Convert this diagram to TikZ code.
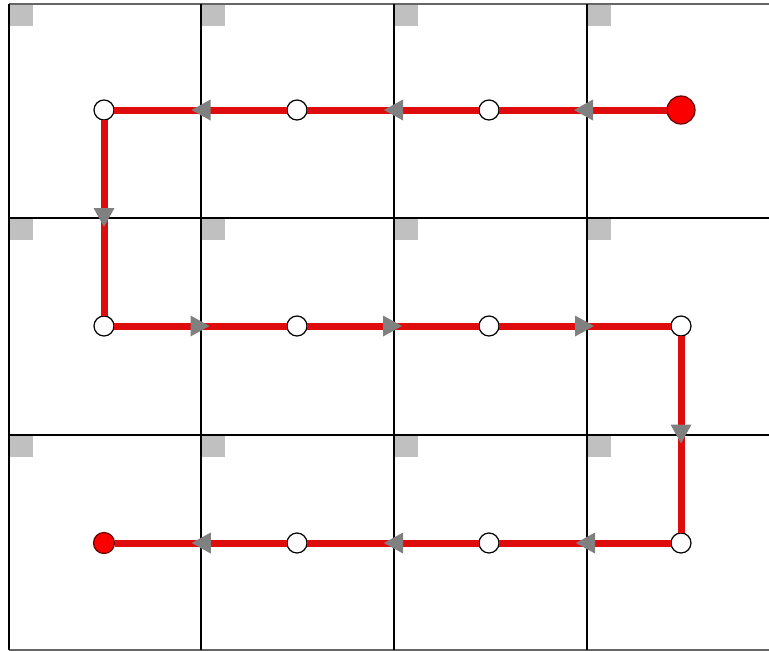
\documentclass[tikz,border=0pt]{standalone}
\usetikzlibrary{arrows.meta,decorations.markings}
\definecolor{pathred}{RGB}{222,12,12}
\definecolor{startred}{RGB}{250,0,0}
\definecolor{tipgray}{RGB}{128,128,128}
\definecolor{sqgray}{RGB}{192,192,192}
\tikzset{
  gridline/.style={black, line width=1.3pt},
  frameline/.style={gray!80!black, line width=1.3pt},
  cellmark/.style={fill=sqgray, draw=none},
  waypt/.style={circle, draw=black, fill=white, line width=1.2pt, minimum size=20pt, inner sep=0pt, outer sep=0pt},
  startpt/.style={circle, draw=red!40!black, fill=startred, line width=1.2pt, minimum size=28pt, inner sep=0pt, outer sep=0pt},
  endpt/.style={circle, draw=red!40!black, fill=startred, line width=1.2pt, minimum size=21pt, inner sep=0pt, outer sep=0pt},
  flow/.style={draw=pathred, line width=7pt, postaction={decorate},
    decoration={markings, mark=at position 0.5 with {\arrow[xshift=9pt]{Triangle[length=19pt,width=21pt,line width=0pt,color=tipgray]}}}}
}
\begin{document}
\begin{tikzpicture}[x=1pt,y=-1pt]
\fill[white] (0,0) rectangle (769,651);
\useasboundingbox (0,0) rectangle (769,651);
% grey cell markers
\foreach \gx in {10,202,395,588}{
  \foreach \gy in {5,219,436}{
    \fill[cellmark] (\gx,\gy) rectangle ++(23,21);
  }
}
% grid
\draw[frameline] (9,4) -- (769,4);
\draw[frameline] (9,650) -- (769,650);
\draw[gridline] (9,4) -- (9,650);
\foreach \gx in {201,394,587}{\draw[gridline] (\gx,4) -- (\gx,650);}
\foreach \gy in {218,435}{\draw[gridline] (9,\gy) -- (769,\gy);}
% nodes
\node[startpt] (s) at (681,110) {};
\node[waypt] (a3) at (489,110) {};
\node[waypt] (a2) at (297,110) {};
\node[waypt] (a1) at (104,110) {};
\node[waypt] (b1) at (104,326) {};
\node[waypt] (b2) at (297,326) {};
\node[waypt] (b3) at (489,326) {};
\node[waypt] (b4) at (681,326) {};
\node[waypt] (c4) at (681,543) {};
\node[waypt] (c3) at (489,543) {};
\node[waypt] (c2) at (297,543) {};
\node[endpt] (e) at (104,543) {};
% path
\draw[flow] (s) -- (a3);
\draw[flow] (a3) -- (a2);
\draw[flow] (a2) -- (a1);
\draw[flow] (a1) -- (b1);
\draw[flow] (b1) -- (b2);
\draw[flow] (b2) -- (b3);
\draw[flow] (b3) -- (b4);
\draw[flow] (b4) -- (c4);
\draw[flow] (c4) -- (c3);
\draw[flow] (c3) -- (c2);
\draw[flow] (c2) -- (e);
\end{tikzpicture}
\end{document}
